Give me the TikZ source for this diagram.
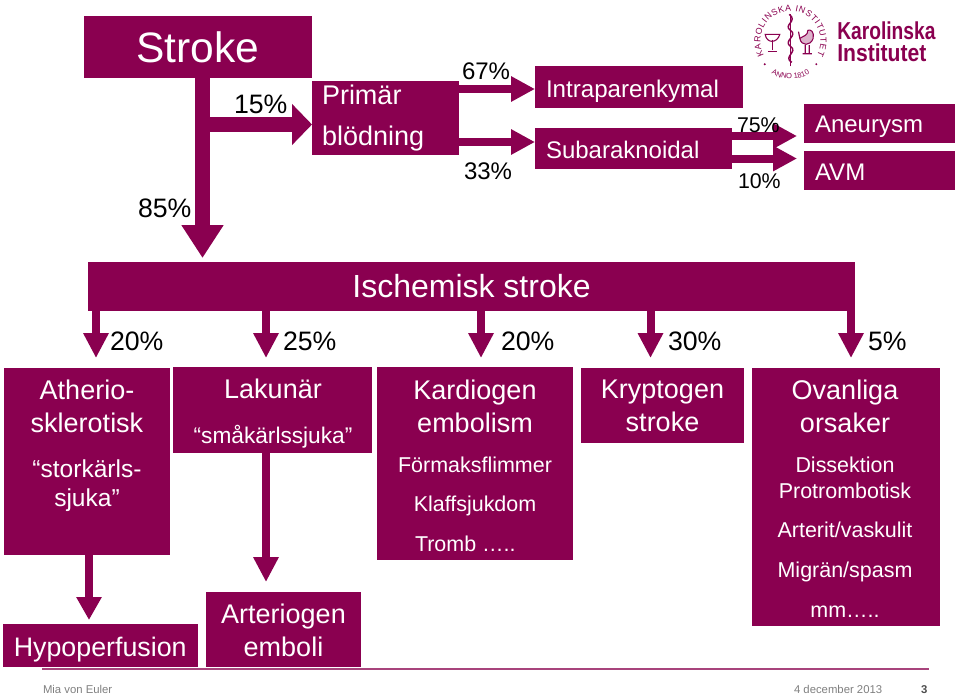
\documentclass[tikz,border=0pt]{standalone}
\usepackage{fontspec}
\setmainfont{Liberation Sans}
\usetikzlibrary{arrows.meta,calc,decorations.text}
\definecolor{ki}{HTML}{8A0050}
\definecolor{kiline}{HTML}{A8447C}
\definecolor{foot}{HTML}{808080}
\tikzset{
  box/.style={fill=ki,draw=none,inner sep=0pt,outer sep=0pt,text=white,align=center},
  fs/.style={font=\fontsize{#1}{#1}\selectfont},
  wl/.style={text=white,inner sep=0pt,outer sep=0pt,anchor=base},
  wll/.style={wl,anchor=base west},
  pc/.style={text=black,inner sep=0pt,outer sep=0pt,anchor=base west},
  ft/.style={text=foot,inner sep=0pt,outer sep=0pt,anchor=base west,fs=8.5},
  bigarrow/.style={ki,line width=11.25pt,-{Triangle[length=24.75pt,width=30pt]}},
  midarrow/.style={ki,line width=6pt,-{Triangle[length=18pt,width=18pt]}},
  smallarrow/.style={ki,line width=6pt,-{Triangle[length=18.75pt,width=18pt]}},
  seal/.style={decorate},
}
\newcommand{\kbox}[7][]{\node[box,#1,minimum width={(#4-#2)*0.75pt},minimum height={(#6-#3)*0.75pt}] (#5) at ({(#2+#4)/2},{(#3+#6)/2}) {#7};}
\begin{document}
\begin{tikzpicture}[x=0.75pt,y=-0.75pt]
\useasboundingbox (0,0) rectangle (960,694);
\fill[white] (0,0) rectangle (960,694);

% boxes: [options] x1 y1 x2 name y2 text
\kbox[fs=31.9]{84}{16}{312}{stroke}{78}{\raisebox{-1.2pt}{Stroke}}
\kbox{312}{81}{459}{prim}{155}{}
\kbox{535}{66}{743}{intra}{108}{}
\kbox{535}{127.5}{732}{sub}{169}{}
\kbox{804}{104}{955}{aneu}{143}{}
\kbox{804}{151}{955}{avm}{190}{}
\kbox[fs=24]{88}{262}{855}{isch}{311}{\raisebox{-1.5pt}{Ischemisk stroke}}
\kbox{4}{368}{170}{ather}{555}{}
\kbox{173}{367}{372}{lak}{453}{}
\kbox{377}{367}{573}{kard}{560}{}
\kbox[font=\fontsize{20.25}{24.75}\selectfont]{581}{368}{744}{kryp}{443}{Kryptogen\\stroke}
\kbox{752}{368}{940}{ovan}{626}{}
\kbox{2.5}{624}{198}{hypo}{667}{}
\kbox{206}{592}{361}{arter}{667}{}

% arrow end points
\coordinate (tisch) at (202.5,258);
\coordinate (tprim) at (prim.west |- 0,124.5);
\coordinate (t67) at (535,89);
\coordinate (t33) at (535,142);
\coordinate (t75) at (797,136);
\coordinate (t10) at (797,158.5);
\coordinate (t1) at (96,358);
\coordinate (t2) at (266,358);
\coordinate (t3) at (481,358);
\coordinate (t4) at (650.5,358);
\coordinate (t5) at (851,358);
\coordinate (thypo) at (89,620);
\coordinate (tarter) at (266,582);

\draw[bigarrow] (stroke.south -| tisch) -- (tisch);
\draw[bigarrow,-{Triangle[length=15pt,width=30pt]}] (tisch |- tprim) -- (tprim);
\draw[midarrow] (prim.east |- t67) -- (t67);
\draw[midarrow] (prim.east |- t33) -- (t33);
\draw[midarrow] (sub.east |- t75) -- (t75);
\draw[midarrow] (sub.east |- t10) -- (t10);
\foreach \t in {t1,t2,t3,t4,t5}
  \draw[smallarrow] (isch.south -| \t) -- (\t);
\draw[smallarrow,-{Triangle[length=17.25pt,width=18pt]}] (ather.south -| thypo) -- (thypo);
\draw[smallarrow] (lak.south -| tarter) -- (tarter);

% labels in boxes
\node[wll,fs=20.25] (tprim1) at (322,104.5) {Primär};
\node[wll,fs=20.25] (tprim2) at (322,145.5) {blödning};
\node[wll,fs=18.1] (tintra) at (546,97) {Intraparenkymal};
\node[wll,fs=18] (tsub) at (546,158) {Subaraknoidal};
\node[wll,fs=18] (taneu) at (815,132) {Aneurysm};
\node[wll,fs=18] (tavm) at (815,180) {AVM};

\node[wl,fs=20.25] (ta1) at (87,399) {Atherio-};
\node[wl,fs=20.25] (ta2) at (87,432) {sklerotisk};
\node[wl,fs=18.4] (ta3) at (87,477) {“storkärls-};
\node[wl,fs=18.4] (ta4) at (87,506) {sjuka”};
\node[wl,fs=20.25] (tl1) at (273,398) {Lakunär};
\node[wl,fs=17] (tl2) at (273,443) {“småkärlssjuka”};
\node[wl,fs=20.25] (tk1) at (475,399) {Kardiogen};
\node[wl,fs=20.25] (tk2) at (475,432) {embolism};
\node[wl,fs=16.1] (tk3) at (475,472) {Förmaksflimmer};
\node[wl,fs=16.1] (tk4) at (475,511) {Klaffsjukdom};
\node[wll,fs=16.1] (tk5) at (415,551) {Tromb …..};
\node[wl,fs=20.25] (to1) at (845,399) {Ovanliga};
\node[wl,fs=20.25] (to2) at (845,432) {orsaker};
\node[wl,fs=16.1] (to3) at (845,472) {Dissektion};
\node[wl,fs=16.1] (to4) at (845,498) {Protrombotisk};
\node[wl,fs=16.1] (to5) at (845,537) {Arterit/vaskulit};
\node[wl,fs=16.1] (to6) at (845,577) {Migrän/spasm};
\node[wl,fs=16.1] (to7) at (845,617) {mm…..};
\node[wl,fs=20.1] (th) at (100.25,656) {Hypoperfusion};
\node[wl,fs=20.25] (ta5) at (283.5,623) {Arteriogen};
\node[wl,fs=20.25] (ta6) at (283.5,656) {emboli};

% percentages
\node[pc,fs=20] (p15) at (234,113) {15\%};
\node[pc,fs=20] (p85) at (138,217) {85\%};
\node[pc,fs=18] (p67) at (462,79) {67\%};
\node[pc,fs=18] (p33) at (464,179) {33\%};
\node[pc,fs=16] (p75) at (737,132) {75\%};
\node[pc,fs=16] (p10) at (738,188) {10\%};
\node[pc,fs=20] (r1) at (110,350) {20\%};
\node[pc,fs=20] (r2) at (283,350) {25\%};
\node[pc,fs=20] (r3) at (501,350) {20\%};
\node[pc,fs=20] (r4) at (668,350) {30\%};
\node[pc,fs=20] (r5) at (868,350) {5\%};

% footer
\coordinate (fl) at (42,669);
\coordinate (fr) at (929,669);
\draw[kiline,line width=0.9pt] (fl) -- (fr);
\node[ft] (f1) at (43,693) {Mia von Euler};
\node[ft] (f2) at (794,693) {4 december 2013};
\node[ft,text=black!70,font=\fontsize{8.5}{8.5}\selectfont\bfseries] (f3) at (921,693) {3};

% logo wordmark
\node[anchor=base west,inner sep=0pt,text=ki,font=\fontsize{18}{18}\selectfont\bfseries] (kw1) at (837,39) {\scalebox{0.8}[1.02]{Karolinska}};
\node[anchor=base west,inner sep=0pt,text=ki,font=\fontsize{18}{18}\selectfont\bfseries] (kw2) at (837,61) {\scalebox{0.88}[1.02]{Institutet}};

% logo seal
\begin{scope}[shift={(790.5,41)},x=1pt,y=1pt]
  \path[seal,decoration={text along path,text align=fit to path,text={|\fontsize{6.6}{6.6}\selectfont\color{ki}|KAROLINSKA INSTITUTET}}]
    (208:22.5) arc[start angle=208,end angle=-28,radius=22.5];
  \path[seal,decoration={text along path,text align=center,text={|\fontsize{5.6}{5.6}\selectfont\color{ki}|ANNO 1810}}]
    (235:28.5) arc[start angle=235,end angle=305,radius=28.5];
  \fill[ki] (222:26) circle (0.8pt) (318:26) circle (0.8pt);
  % staff and serpent
  \draw[ki,line width=1.3pt] (0,-19) -- (0,20);
  \draw[ki,line width=1.1pt] (-1,20) .. controls (6,15) and (-6,12) .. (0,8) .. controls (6,4) and (-6,0) .. (0,-4) .. controls (6,-8) and (-6,-12) .. (1,-16);
  % cup
  \draw[ki,line width=0.8pt] (-19,5) .. controls (-18,-2) and (-10,-2) .. (-8,5) -- cycle;
  \draw[ki,line width=0.9pt] (-13.5,1) -- (-13.5,-7) (-17,-8) -- (-10,-8);
  % cock
  \draw[ki,line width=0.8pt,fill=ki!30] (7,2) .. controls (8,-4) and (15,-4) .. (17,2) .. controls (18,7) and (15,9) .. (13,8) .. controls (13,4) and (10,4) .. (7,2) -- cycle;
  \draw[ki,line width=0.9pt] (7,2) -- (6,7) (11,-3) -- (11,-9) (14,-3) -- (14,-9) (9,-9.5) -- (16,-9.5);
\end{scope}
\end{tikzpicture}
\end{document}
